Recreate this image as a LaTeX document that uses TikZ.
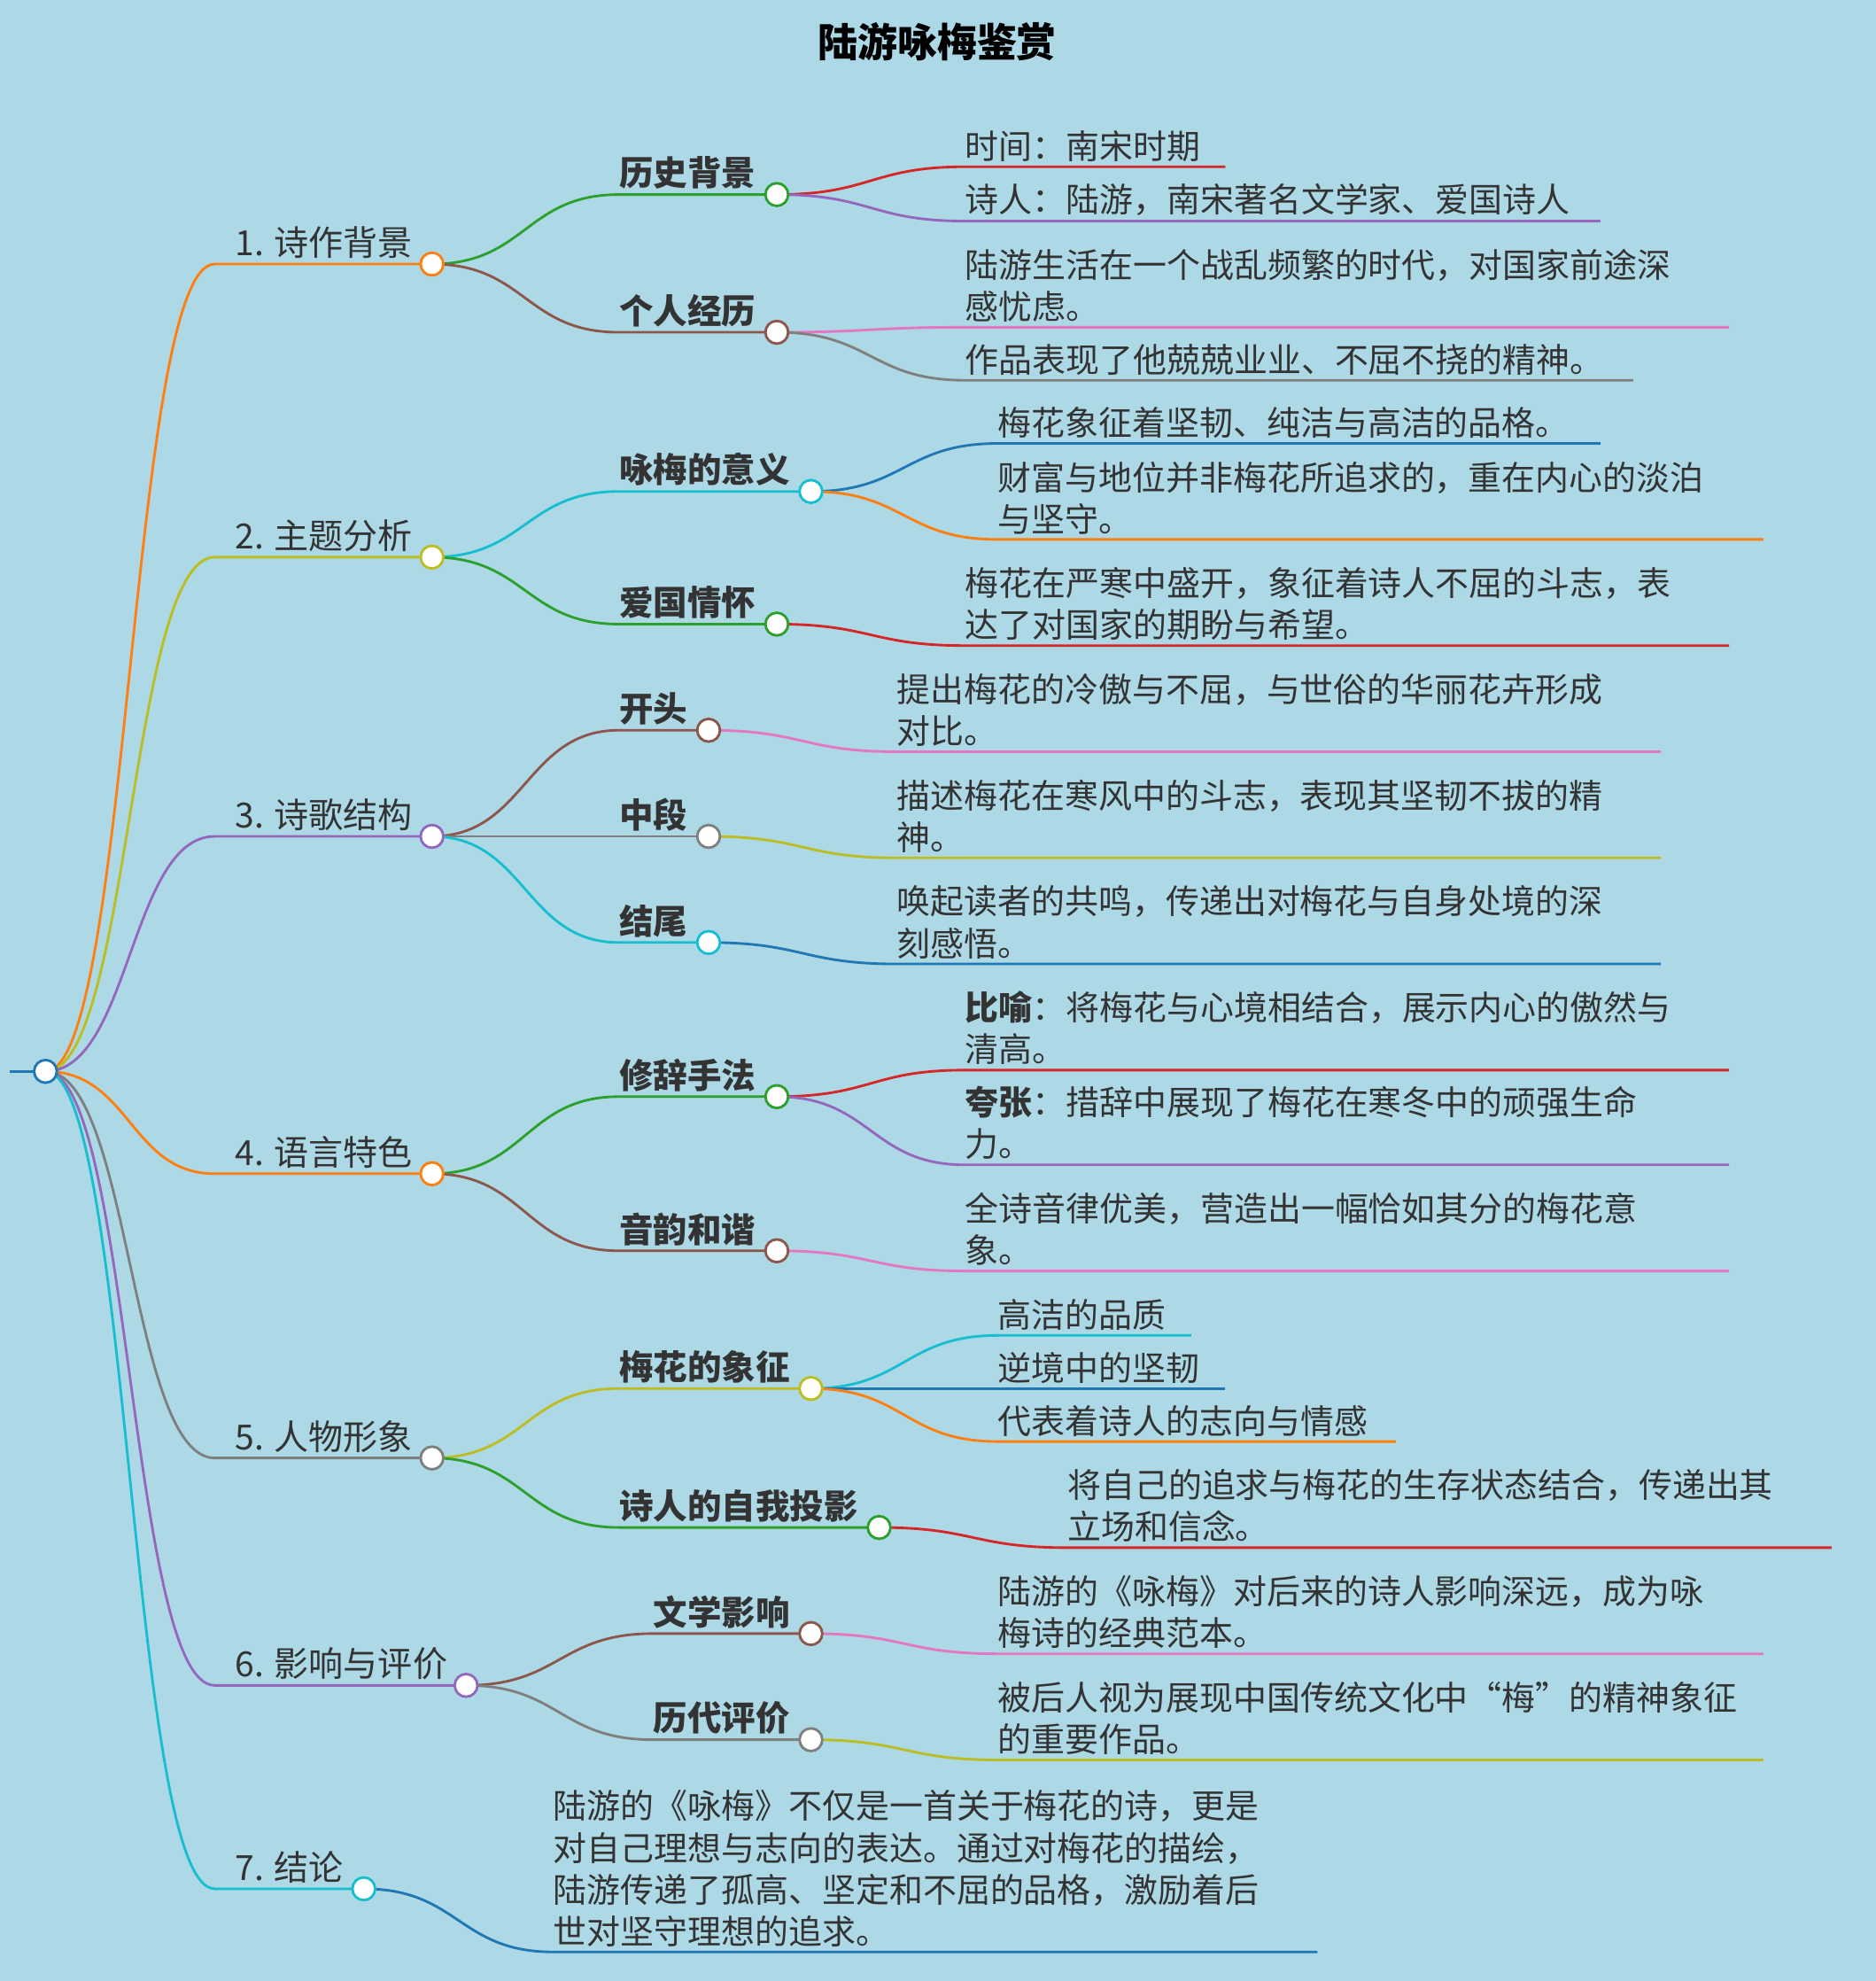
\documentclass[tikz,border=0pt]{standalone}
\usepackage{fontspec}
\setmainfont{Noto Sans CJK SC}
\definecolor{bgblue}{HTML}{ADD8E6}
\definecolor{cblue}{HTML}{1F77B4}
\definecolor{corange}{HTML}{FF7F0E}
\definecolor{cgreen}{HTML}{2CA02C}
\definecolor{cred}{HTML}{D62728}
\definecolor{cpurple}{HTML}{9467BD}
\definecolor{cbrown}{HTML}{8C564B}
\definecolor{cpink}{HTML}{E377C2}
\definecolor{cgray}{HTML}{7F7F7F}
\definecolor{colive}{HTML}{BCBD22}
\definecolor{ccyan}{HTML}{17BECF}
\definecolor{ink}{HTML}{333333}
\tikzset{
  knob/.style={circle,draw=#1,fill=white,line width=2pt,minimum size=18pt,inner sep=0pt},
  topic/.style={anchor=south west,inner sep=0pt,text=ink,font=\fontsize{27.4}{31}\selectfont},
  sub/.style={anchor=south west,inner sep=0pt,text=ink,font=\fontsize{27}{31}\selectfont\bfseries},
  leaf/.style={anchor=south west,inner sep=0pt,text=ink,align=left,font=\fontsize{26.6}{33}\selectfont}
}
% curve from parent point to start of underline, then underline
\newcommand{\link}[6]{\draw[#6,line width=2pt] (#1,#2) .. controls ({(#1+#3)/2},#2) and ({(#1+#3)/2},#4) .. (#3,#4) -- (#5,#4);}
\begin{document}
\begin{tikzpicture}[x=1pt,y=-1pt]
\fill[bgblue] (0,0) rectangle (1485,1568);
\useasboundingbox (0,0) rectangle (1485,1568);
\node[text=black,font=\fontsize{31.5}{35}\selectfont\bfseries] (title) at (742,33) {陆游咏梅鉴赏};

% root to topics
\draw[cblue,line width=2pt] (8,848) -- (36,848);
\link{36}{848}{170}{209}{342}{corange}
\link{36}{848}{170}{441}{342}{colive}
\link{36}{848}{170}{662}{342}{cpurple}
\link{36}{848}{170}{929}{342}{corange}
\link{36}{848}{170}{1154}{342}{cgray}
\link{36}{848}{170}{1334}{369}{cpurple}
\link{36}{848}{170}{1495}{288}{ccyan}

% topics to subtopics
\link{342}{209}{490}{154}{615}{cgreen}
\link{342}{209}{490}{263}{615}{cbrown}
\link{342}{441}{490}{389}{642}{ccyan}
\link{342}{441}{490}{494}{615}{cgreen}
\link{342}{662}{490}{578}{561}{cbrown}
\link{342}{662}{490}{662}{561}{cgray}
\link{342}{662}{490}{746}{561}{ccyan}
\link{342}{929}{490}{868}{615}{cgreen}
\link{342}{929}{490}{990}{615}{cbrown}
\link{342}{1154}{490}{1099}{642}{colive}
\link{342}{1154}{490}{1209}{696}{cgreen}
\link{369}{1334}{517}{1293}{642}{cbrown}
\link{369}{1334}{517}{1377}{642}{cgray}
\link{288}{1495}{438}{1545}{1043}{cblue}

% subtopics to leaves
\link{615}{154}{764}{132}{970}{cred}
\link{615}{154}{764}{175}{1267}{cpurple}
\link{615}{263}{764}{259}{1369}{cpink}
\link{615}{263}{764}{301}{1293}{cgray}
\link{642}{389}{790}{351}{1267}{cblue}
\link{642}{389}{790}{427}{1396}{corange}
\link{615}{494}{764}{511}{1369}{cred}
\link{561}{578}{710}{595}{1315}{cpink}
\link{561}{662}{710}{679}{1315}{colive}
\link{561}{746}{710}{763}{1315}{cblue}
\link{615}{868}{764}{847}{1369}{cred}
\link{615}{868}{764}{922}{1369}{cpurple}
\link{615}{990}{764}{1006}{1369}{cpink}
\link{642}{1099}{790}{1057}{943}{ccyan}
\link{642}{1099}{790}{1099}{970}{cblue}
\link{642}{1099}{790}{1141}{1105}{corange}
\link{696}{1209}{845}{1225}{1450}{cred}
\link{642}{1293}{790}{1309}{1396}{cpink}
\link{642}{1377}{790}{1393}{1396}{colive}

% knobs
\node[knob=cblue] (root) at (36,848) {};
\node[knob=corange] (k1) at (342,209) {};
\node[knob=colive] (k2) at (342,441) {};
\node[knob=cpurple] (k3) at (342,662) {};
\node[knob=corange] (k4) at (342,929) {};
\node[knob=cgray] (k5) at (342,1154) {};
\node[knob=cpurple] (k6) at (369,1334) {};
\node[knob=ccyan] (k7) at (288,1495) {};
\node[knob=cgreen] (k1a) at (615,154) {};
\node[knob=cbrown] (k1b) at (615,263) {};
\node[knob=ccyan] (k2a) at (642,389) {};
\node[knob=cgreen] (k2b) at (615,494) {};
\node[knob=cbrown] (k3a) at (561,578) {};
\node[knob=cgray] (k3b) at (561,662) {};
\node[knob=ccyan] (k3c) at (561,746) {};
\node[knob=cgreen] (k4a) at (615,868) {};
\node[knob=cbrown] (k4b) at (615,990) {};
\node[knob=colive] (k5a) at (642,1099) {};
\node[knob=cgreen] (k5b) at (696,1209) {};
\node[knob=cbrown] (k6a) at (642,1293) {};
\node[knob=cgray] (k6b) at (642,1377) {};

% topic labels
\node[topic] (t1) at (186,205) {1. 诗作背景};
\node[topic] (t2) at (186,437) {2. 主题分析};
\node[topic] (t3) at (186,658) {3. 诗歌结构};
\node[topic] (t4) at (186,925) {4. 语言特色};
\node[topic] (t5) at (186,1150) {5. 人物形象};
\node[topic] (t6) at (186,1330) {6. 影响与评价};
\node[topic] (t7) at (186,1491) {7. 结论};

% subtopic labels
\node[sub] (s1a) at (490,150) {历史背景};
\node[sub] (s1b) at (490,259) {个人经历};
\node[sub] (s2a) at (490,385) {咏梅的意义};
\node[sub] (s2b) at (490,490) {爱国情怀};
\node[sub] (s3a) at (490,574) {开头};
\node[sub] (s3b) at (490,658) {中段};
\node[sub] (s3c) at (490,742) {结尾};
\node[sub] (s4a) at (490,864) {修辞手法};
\node[sub] (s4b) at (490,986) {音韵和谐};
\node[sub] (s5a) at (490,1095) {梅花的象征};
\node[sub] (s5b) at (490,1205) {诗人的自我投影};
\node[sub] (s6a) at (517,1289) {文学影响};
\node[sub] (s6b) at (517,1373) {历代评价};

% leaves
\node[leaf] at (764,128) {时间：南宋时期};
\node[leaf] at (764,171) {诗人：陆游，南宋著名文学家、爱国诗人};
\node[leaf] at (764,255) {陆游生活在一个战乱频繁的时代，对国家前途深\\感忧虑。};
\node[leaf] at (764,297) {作品表现了他兢兢业业、不屈不挠的精神。};
\node[leaf] at (790,347) {梅花象征着坚韧、纯洁与高洁的品格。};
\node[leaf] at (790,423) {财富与地位并非梅花所追求的，重在内心的淡泊\\与坚守。};
\node[leaf] at (764,507) {梅花在严寒中盛开，象征着诗人不屈的斗志，表\\达了对国家的期盼与希望。};
\node[leaf] at (710,591) {提出梅花的冷傲与不屈，与世俗的华丽花卉形成\\对比。};
\node[leaf] at (710,675) {描述梅花在寒风中的斗志，表现其坚韧不拔的精\\神。};
\node[leaf] at (710,759) {唤起读者的共鸣，传递出对梅花与自身处境的深\\刻感悟。};
\node[leaf] at (764,843) {\textbf{比喻}：将梅花与心境相结合，展示内心的傲然与\\清高。};
\node[leaf] at (764,918) {\textbf{夸张}：措辞中展现了梅花在寒冬中的顽强生命\\力。};
\node[leaf] at (764,1002) {全诗音律优美，营造出一幅恰如其分的梅花意\\象。};
\node[leaf] at (790,1053) {高洁的品质};
\node[leaf] at (790,1095) {逆境中的坚韧};
\node[leaf] at (790,1137) {代表着诗人的志向与情感};
\node[leaf] at (845,1221) {将自己的追求与梅花的生存状态结合，传递出其\\立场和信念。};
\node[leaf] at (790,1305) {陆游的《咏梅》对后来的诗人影响深远，成为咏\\梅诗的经典范本。};
\node[leaf] at (790,1389) {被后人视为展现中国传统文化中“梅”的精神象征\\的重要作品。};
\node[leaf] at (438,1541) {陆游的《咏梅》不仅是一首关于梅花的诗，更是\\对自己理想与志向的表达。通过对梅花的描绘，\\陆游传递了孤高、坚定和不屈的品格，激励着后\\世对坚守理想的追求。};
\end{tikzpicture}
\end{document}
